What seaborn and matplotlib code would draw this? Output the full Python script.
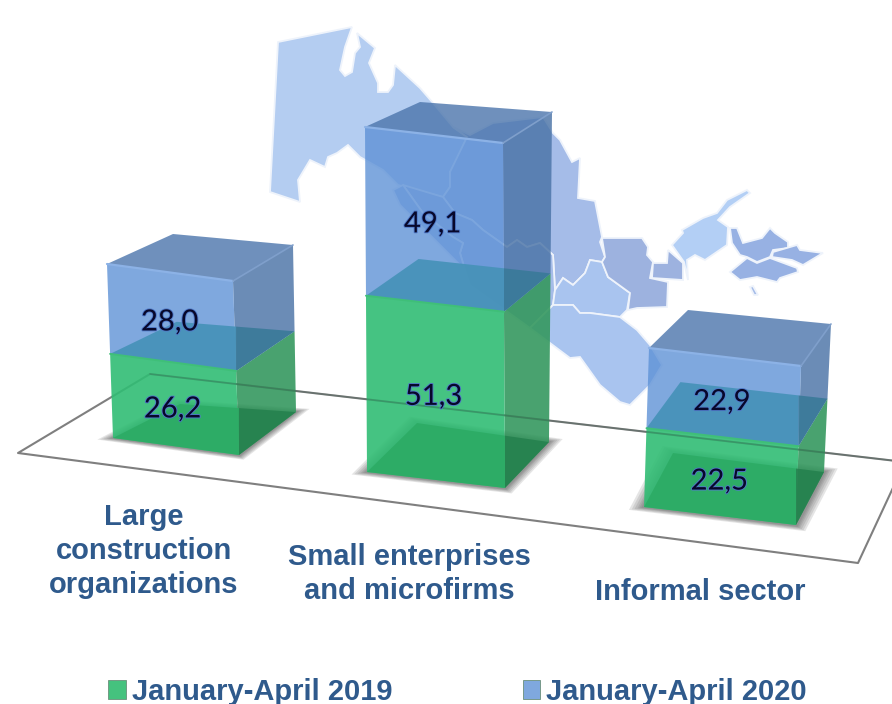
import numpy as np
import pandas as pd
import matplotlib
matplotlib.use('Agg')
import matplotlib.pyplot as plt
import matplotlib.patheffects as pe
from matplotlib.patches import Polygon
from matplotlib.transforms import Affine2D
import seaborn as sns

sectors = ['Large\nconstruction\norganizations', 'Small enterprises\nand microfirms', 'Informal sector']
periods = ['January-April 2019', 'January-April 2020']
values_2019 = [26.2, 51.3, 22.5]
values_2020 = [28.0, 49.1, 22.9]
labels_2019 = ['26,2', '51,3', '22,5']
labels_2020 = ['28,0', '49,1', '22,9']

# box corners in picture pixels, at the floor and at the top of the stack
floor_fl = [(113, 438), (367, 472), (644, 507)]
floor_fr = [(239, 455), (505, 488), (796, 525)]
floor_br = [(296, 412), (549, 442), (824, 472)]
floor_bl = [(180, 404), (417, 423), (673, 453)]
top_fl = [(107, 264), (365, 127), (649, 348)]
top_br = [(293, 245), (552, 112), (831, 324)]
top_bl = [(173, 234), (420, 102), (688, 310)]

# label positions
label_xy = [(144, 551), (409, 574), (700, 592)]

# background map, picture pixels: (fill, outline)
map_shapes = [
    ('#b4cdf1', [(278, 42), (352, 27), (345, 47), (340, 70), (345, 76), (352, 72), (355, 53), (360, 47), (357, 33),
                 (375, 48), (369, 63), (378, 83), (378, 92), (388, 92), (393, 85), (395, 65), (420, 88), (433, 103),
                 (453, 127), (467, 137), (457, 160), (450, 172), (450, 187), (443, 197), (398, 185), (383, 170),
                 (360, 157), (348, 145), (337, 153), (328, 157), (325, 167), (310, 160), (298, 180), (300, 202),
                 (270, 192)]),
    ('#a5bce8', [(453, 127), (470, 135), (493, 123), (543, 117), (553, 133), (560, 140), (572, 162), (580, 158),
                 (578, 198), (595, 201), (602, 237), (600, 242), (605, 257), (602, 262), (590, 260), (585, 273),
                 (573, 285), (563, 278), (555, 290), (553, 255), (540, 243), (527, 247), (517, 240), (507, 247),
                 (483, 230), (472, 220), (455, 213), (443, 197), (450, 187), (450, 172), (467, 137)]),
    ('#a5bce8', [(443, 197), (455, 213), (472, 220), (483, 230), (507, 247), (517, 240), (527, 247), (540, 243),
                 (553, 255), (555, 290), (553, 305), (530, 328), (505, 310), (470, 285), (465, 270), (460, 253),
                 (463, 243), (453, 237), (423, 213), (403, 185)]),
    ('#a9c1ec', [(393, 190), (403, 185), (423, 213), (453, 237), (463, 243), (460, 253), (465, 270), (445, 250),
                 (400, 205)]),
    ('#a9c4ef', [(555, 290), (563, 278), (573, 285), (585, 273), (590, 260), (602, 262), (608, 277), (630, 293),
                 (627, 310), (620, 317), (590, 313), (580, 313), (573, 305), (553, 305)]),
    ('#a9c4ef', [(530, 328), (553, 305), (573, 305), (580, 313), (590, 313), (620, 317), (637, 330), (650, 345),
                 (662, 365), (650, 385), (630, 405), (620, 402), (600, 385), (580, 357), (570, 358)]),
    ('#9db2df', [(602, 238), (642, 238), (648, 247), (647, 255), (653, 262), (650, 278), (668, 282), (667, 307),
                 (637, 308), (628, 310), (630, 293), (608, 277), (602, 262), (605, 257)]),
    ('#9db2df', [(653, 263), (667, 263), (668, 250), (683, 263), (683, 280), (652, 278)]),
    ('#b3cff5', [(672, 245), (683, 233), (682, 230), (703, 218), (717, 213), (727, 200), (747, 190), (750, 193),
                 (730, 207), (718, 220), (728, 227), (727, 245), (705, 260), (695, 255), (687, 260), (688, 280),
                 (684, 262)]),
    ('#97b1e3', [(730, 228), (737, 228), (743, 243), (762, 238), (770, 228), (775, 233), (788, 242), (788, 248),
                 (773, 250), (770, 257), (757, 262), (747, 257), (740, 255), (732, 243)]),
    ('#97b1e3', [(773, 252), (797, 245), (800, 250), (823, 253), (803, 265), (792, 260), (772, 257)]),
    ('#97b1e3', [(730, 272), (747, 258), (757, 263), (770, 258), (797, 268), (798, 272), (780, 278), (777, 282),
                 (757, 277), (740, 280)]),
    ('#a5bce8', [(750, 287), (753, 286), (758, 295), (754, 295)]),
]
floor_outline = [(905, 462), (150, 374), (18, 453), (858, 563), (905, 462)]

green, green_side, green_floor, green_floor_side = '#31bd74', '#35985f', '#2bab63', '#24804d'
blue, blue_side, blue_top = '#5f92d6', '#4a73a6', '#4b75ac'
teal, teal_side = '#4692b8', '#3a7a99'
text_blue = '#2f5a8c'

sns.set_theme(style='white')
plt.rcParams['font.family'] = ['Liberation Sans', 'DejaVu Sans']

df = pd.DataFrame({
    'sector': sectors * 2,
    'period': [periods[0]] * 3 + [periods[1]] * 3,
    'value': values_2019 + values_2020,
})

fig, ax = plt.subplots(figsize=(8.92, 7.04), dpi=100)
ax.set_position([0, 0, 1, 1])
sns.barplot(data=df, x='sector', y='value', hue='period', dodge=False, palette=['#45c27e', '#7fa8de'],
            saturation=1, ax=ax)
ax.set_xlim(0, 892)
ax.set_ylim(704, 0)
ax.set_axis_off()


def corner(i, which, v):
    total = values_2019[i] + values_2020[i]
    f = v / total
    fl = np.array(floor_fl[i], float)
    rise = np.array(top_fl[i], float) - fl
    if which == 'fl':
        return fl + rise * f
    if which == 'fr':
        return np.array(floor_fr[i], float) + rise * f
    if which == 'br':
        return np.array(floor_br[i], float) + (np.array(top_br[i], float) - np.array(floor_br[i], float)) * f
    return np.array(floor_bl[i], float) + (np.array(top_bl[i], float) - np.array(floor_bl[i], float)) * f


def poly(pts, color, z, alpha=1.0):
    ax.add_patch(Polygon(pts, closed=True, facecolor=color, edgecolor='none', alpha=alpha, zorder=z))


def level_face(i, v, front_color, side_color, z, alpha):
    # horizontal face at height v, split where the side wall starts
    fl, fr, br, bl = [corner(i, c, v) for c in ('fl', 'fr', 'br', 'bl')]
    t = (fr[0] - bl[0]) / (br[0] - bl[0])
    cut = bl + (br - bl) * t
    poly([fl, fr, cut, bl], front_color, z, alpha)
    poly([fr, br, cut], side_color, z, alpha)


for color, pts in map_shapes:
    ax.add_patch(Polygon(pts, closed=True, facecolor=color, edgecolor='#eef3fb', lw=1.3, zorder=1))

fx, fy = zip(*floor_outline)
ax.plot(fx, fy, color='#7f7f7f', lw=1.5, zorder=2)
ax.plot([150, 905], [374, 462], color='#3d5a50', lw=1.2, alpha=0.35, zorder=90)

for i in range(3):
    v1 = values_2019[i]
    v2 = v1 + values_2020[i]
    base = 10 * (i + 1)

    # soft shadow on the floor
    face = np.array([corner(i, c, 0) for c in ('fl', 'fr', 'br', 'bl')])
    mid = face.mean(axis=0) + [4, 2]
    for k in [1.16, 1.13, 1.10, 1.07, 1.05, 1.03]:
        poly(mid + (face - mid) * [k, k * 1.02], '#555555', 3, 0.15)

    # green box walls
    poly([corner(i, 'fr', 0), corner(i, 'br', 0), corner(i, 'br', v1), corner(i, 'fr', v1)], green_side, base, 0.9)
    # blue box walls
    poly([corner(i, 'fr', v1), corner(i, 'br', v1), corner(i, 'br', v2), corner(i, 'fr', v2)], blue_side, base, 0.82)
    poly([corner(i, 'fl', v2), corner(i, 'fr', v2), corner(i, 'br', v2), corner(i, 'bl', v2)], blue_top, base + 1, 0.8)

    # seaborn's own bars become the front walls
    for container, bottom, z, alpha in [(ax.containers[0], 0, base + 2, 0.9), (ax.containers[1], v1, base + 2, 0.8)]:
        rect = container[i]
        rect.set_y(bottom)
        x0, w = rect.get_x(), rect.get_width()
        total = values_2019[i] + values_2020[i]
        p0 = corner(i, 'fl', 0)
        sx = (corner(i, 'fr', 0) - p0) / w
        sy = (corner(i, 'fl', total) - p0) / total
        t = p0 - sx * x0
        m = Affine2D(np.array([[sx[0], sy[0], t[0]], [sx[1], sy[1], t[1]], [0, 0, 1]]))
        rect.set_transform(m + ax.transData)
        rect.set_facecolor(green if bottom == 0 else blue)
        rect.set_alpha(alpha)
        rect.set_edgecolor('none')
        rect.set_clip_on(False)
        rect.set_zorder(z)

    # faces seen through the glass
    level_face(i, 0, green_floor, green_floor_side, base + 3, 0.85)
    level_face(i, v1, teal, teal_side, base + 3, 0.92)

    # light edges
    a, b = corner(i, 'fl', v2), corner(i, 'fr', v2)
    ax.plot([a[0], b[0]], [a[1], b[1]], color='#8cb2e6', lw=1.6, zorder=base + 4)
    c = corner(i, 'br', v2)
    ax.plot([b[0], c[0]], [b[1], c[1]], color='#7f9fcb', lw=1.2, zorder=base + 4)
    d = corner(i, 'fl', v1)
    e = corner(i, 'fr', v1)
    ax.plot([d[0], e[0]], [d[1], e[1]], color='#3fbf78', lw=1.4, zorder=base + 4)

    # value labels in the middle of each front wall
    for lo, hi, txt in [(0, v1, labels_2019[i]), (v1, v2, labels_2020[i])]:
        mx, my = (corner(i, 'fl', (lo + hi) / 2) + corner(i, 'fr', (lo + hi) / 2)) / 2
        ax.text(mx - 2, my + 5, txt, ha='center', va='center', fontsize=21, family=['Lato', 'DejaVu Sans'],
                color='#07072a', zorder=100,
                path_effects=[pe.withStroke(linewidth=1.3, foreground='#4f79c8')])

for (x, y), name in zip(label_xy, sectors):
    ax.text(x, y, name, ha='center', va='center', fontsize=21, fontweight='bold', color=text_blue,
            linespacing=1.27, zorder=100)

sns.move_legend(ax, loc='lower left', bbox_to_anchor=(107 / 892, -3 / 704), ncol=2, frameon=False, title=None,
                prop={'family': 'Liberation Sans', 'weight': 'bold', 'size': 21}, labelcolor=text_blue,
                handlelength=0.6, handleheight=0.6, handletextpad=0.2, columnspacing=4.47, borderpad=0.05,
                borderaxespad=0)
for h in ax.get_legend().get_patches():
    h.set_edgecolor('#6b8f7a')
    h.set_linewidth(0.6)

fig.savefig('out.png', dpi=100)
